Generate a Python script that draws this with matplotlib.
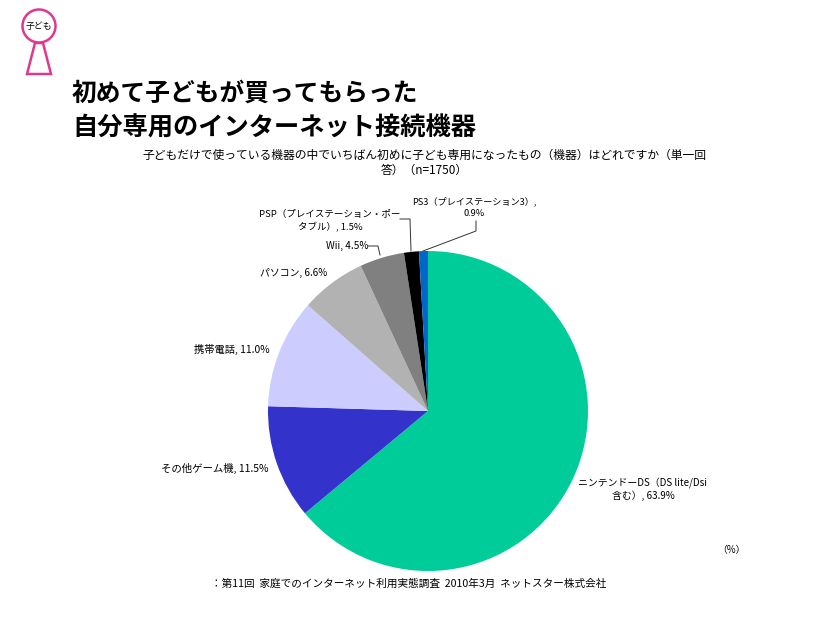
#!/usr/bin/env python3

import matplotlib.pyplot as plt
from matplotlib.patches import Circle, Polygon

W = 826
H = 620

labels = ['ニンテンドーDS（DS lite/Dsi\n含む）, 63.9%', 'その他ゲーム機, 11.5%', '携帯電話, 11.0%',
          'パソコン, 6.6%', 'Wii, 4.5%', 'PSP（プレイステーション・ポー\nタブル）, 1.5%', 'PS3（プレイステーション3）,\n0.9%']
values = [63.9, 11.5, 11.0, 6.6, 4.5, 1.5, 0.9]
colors = ['#00CC99', '#3333CC', '#CCCCFF', '#B2B2B2', '#808080', '#000000', '#0066CC']

title_lines = ['初めて子どもが買ってもらった', '自分専用のインターネット接続機器']
subtitle = '子どもだけで使っている機器の中でいちばん初めに子ども専用になったもの（機器）はどれですか（単一回\n答）（n=1750）'
source = '：第11回  家庭でのインターネット利用実態調査  2010年3月  ネットスター株式会社'

plt.rcParams['font.family'] = 'Noto Sans CJK JP'

fig = plt.figure(figsize=(W / 100, H / 100), dpi=100)

# overlay in pixel coordinates, y going down
bg = fig.add_axes([0, 0, 1, 1])
bg.set_xlim(0, W)
bg.set_ylim(H, 0)
bg.axis('off')

# pie
ax = fig.add_axes([268 / W, (H - 571) / H, 320 / W, 320 / H])
ax.pie(values, colors=colors, startangle=90, counterclock=False, radius=1)
ax.set_xlim(-1, 1)
ax.set_ylim(-1, 1)

# keyhole icon
pink = '#E0388F'
bg.add_patch(Polygon([(35, 43), (43, 43), (51, 74), (27, 74)], closed=True, fill=False, edgecolor=pink, linewidth=1.8))
bg.add_patch(Circle((39, 26), 16.5, facecolor='white', edgecolor=pink, linewidth=1.8, zorder=3))
bg.text(39, 26, '子ども', fontsize=6.4, ha='center', va='center', zorder=4)

# title
bg.text(72, 94, title_lines[0], fontsize=17.8, fontweight='bold', va='center', ha='left')
bg.text(72, 128, title_lines[1], fontsize=18.2, fontweight='bold', va='center', ha='left')
bg.text(424, 163, subtitle, fontsize=8.5, ha='center', va='center', linespacing=1.25)

# slice labels
bg.text(643, 489, labels[0], fontsize=7.1, ha='center', va='center', linespacing=1.35)
bg.text(215, 468, labels[1], fontsize=7.5, ha='center', va='center')
bg.text(232, 349, labels[2], fontsize=7.4, ha='center', va='center')
bg.text(294, 273, labels[3], fontsize=7.1, ha='center', va='center')
bg.text(347, 246, labels[4], fontsize=7.2, ha='center', va='center')
bg.text(330, 221, labels[5], fontsize=6.85, ha='center', va='center', linespacing=1.4)
bg.text(474, 207, labels[6], fontsize=6.6, ha='center', va='center', linespacing=1.4)

# leader lines
bg.plot([368, 378, 380], [246, 246, 255], color='#333333', lw=0.7)
bg.plot([400, 410, 411], [219, 219, 251], color='#333333', lw=0.7)
bg.plot([476, 476, 423], [221, 231, 251], color='#333333', lw=0.7)

bg.text(731, 550, '（%）', fontsize=7, ha='center', va='center')
bg.text(409, 584, source, fontsize=7.65, ha='center', va='center')

plt.savefig('out.png', dpi=100)
